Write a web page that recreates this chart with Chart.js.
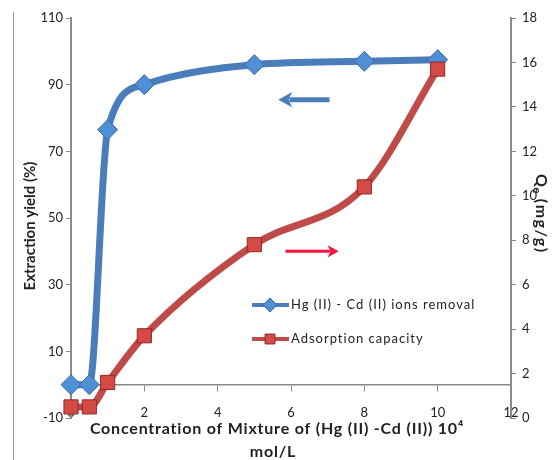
<!DOCTYPE html>
<html>
<head>
<meta charset="utf-8">
<script src="https://cdn.jsdelivr.net/npm/chart.js@4.4.0/dist/chart.umd.min.js"></script>
<style>
  html, body { margin: 0; padding: 0; background: #fff; }
  #wrap { position: relative; width: 552px; height: 460px; }
</style>
</head>
<body>
<div id="wrap"><canvas id="chart" width="552" height="460"></canvas></div>
<script>
// données
const concentration = [0, 0.5, 1, 2, 5, 8, 10];
const extractionYield = [0, 0, 76.5, 90, 96, 97, 97.5];
const adsorptionCapacity = [0.5, 0.5, 1.6, 3.7, 7.8, 10.4, 15.7];
const seriesNames = ['Hg (II) - Cd (II) ions removal', 'Adsorption capacity'];
const xTitleLines = ['Concentration of Mixture of (Hg (II) -Cd (II)) 10\u2074', 'mol/L'];
const yTitle = 'Extraction yield (%)';

const BLUE = '#4a7ebb';
const RED = '#be4b48';
const AXIS = '#8a8a8a';
const TEXT = '#222';
const FONT = 'Lato, "Open Sans", sans-serif';

function toPoints(xs, ys) {
  return xs.map((x, i) => ({ x: x, y: ys[i] }));
}

function arrow(ctx, x1, y1, x2, y2, color, width, head) {
  const dir = Math.sign(x2 - x1);
  ctx.save();
  ctx.strokeStyle = color;
  ctx.fillStyle = color;
  ctx.lineWidth = width;
  ctx.beginPath();
  ctx.moveTo(x1, y1);
  ctx.lineTo(x2 - dir * head * 0.8, y2);
  ctx.stroke();
  ctx.beginPath();
  ctx.moveTo(x2, y2);
  ctx.lineTo(x2 - dir * head, y2 - head * 0.55);
  ctx.lineTo(x2 - dir * head * 0.75, y2);
  ctx.lineTo(x2 - dir * head, y2 + head * 0.55);
  ctx.closePath();
  ctx.fill();
  ctx.restore();
}

// titres d'axes, légende, flèches
const extras = {
  id: 'extras',
  afterDraw(chart) {
    const ctx = chart.ctx;
    const xs = chart.scales.x, ys = chart.scales.y;

    // cadre gauche du graphique
    ctx.save();
    ctx.strokeStyle = '#9a9a9a';
    ctx.lineWidth = 1;
    ctx.beginPath();
    ctx.moveTo(13.5, 12);
    ctx.lineTo(13.5, 460);
    ctx.stroke();
    ctx.restore();

    // flèches
    arrow(ctx, xs.getPixelForValue(7.05), ys.getPixelForValue(85.5),
      xs.getPixelForValue(5.65), ys.getPixelForValue(85.5), BLUE, 5, 14);
    arrow(ctx, xs.getPixelForValue(5.85), ys.getPixelForValue(40),
      xs.getPixelForValue(7.3), ys.getPixelForValue(40), '#f5143c', 3, 11);

    // légende
    ctx.save();
    ctx.font = '13px ' + FONT;
    ctx.letterSpacing = '1px';
    ctx.fillStyle = TEXT;
    ctx.textBaseline = 'middle';
    const rows = [
      { y: 305, color: BLUE, style: 'rectRot', fill: '#4f8fd6', border: '#3b6aa6' },
      { y: 339, color: RED, style: 'rect', fill: '#d54a44', border: '#8e2a27' }
    ];
    rows.forEach((r, i) => {
      ctx.strokeStyle = r.color;
      ctx.lineWidth = 4;
      ctx.beginPath();
      ctx.moveTo(252, r.y);
      ctx.lineTo(289, r.y);
      ctx.stroke();
      ctx.fillStyle = r.fill;
      ctx.strokeStyle = r.border;
      ctx.lineWidth = 1;
      Chart.helpers.drawPoint(ctx, { pointStyle: r.style, radius: 7, borderWidth: 1 }, 270, r.y);
      ctx.fillStyle = TEXT;
      ctx.fillText(seriesNames[i], 291, r.y);
    });
    ctx.restore();

    // titre axe x
    ctx.save();
    ctx.fillStyle = TEXT;
    ctx.font = 'bold 16px ' + FONT;
    ctx.letterSpacing = '0.8px';
    ctx.textAlign = 'center';
    ctx.textBaseline = 'middle';
    ctx.fillText(xTitleLines[0], 277, 429);
    ctx.fillText(xTitleLines[1], 273, 452);
    ctx.restore();

    // titre axe y gauche
    ctx.save();
    ctx.fillStyle = TEXT;
    ctx.font = 'bold 15px ' + FONT;
    ctx.translate(30, 226);
    ctx.rotate(-Math.PI / 2);
    ctx.textAlign = 'center';
    ctx.textBaseline = 'middle';
    ctx.fillText(yTitle, 0, 0);
    ctx.restore();

    // titre axe y droit : Qe (mg/g)
    ctx.save();
    ctx.fillStyle = TEXT;
    ctx.translate(541, 174);
    ctx.rotate(Math.PI / 2);
    ctx.textBaseline = 'middle';
    ctx.letterSpacing = '1.5px';
    ctx.font = 'bold 16px ' + FONT;
    ctx.fillText('Q', 0, 0);
    let w = ctx.measureText('Q').width;
    ctx.font = 'bold 11px ' + FONT;
    ctx.fillText('e', w - 1, 4);
    w += ctx.measureText('e').width + 3;
    ctx.font = 'bold 16px ' + FONT;
    ctx.fillText('(mg/g)', w, 0);
    ctx.restore();
  }
};

const ctx = document.getElementById('chart').getContext('2d');
new Chart(ctx, {
  type: 'line',
  data: {
    datasets: [{
      label: seriesNames[0],
      data: toPoints(concentration, extractionYield),
      yAxisID: 'y',
      borderColor: BLUE,
      borderWidth: 7,
      pointStyle: 'rectRot',
      pointRadius: 10,
      pointBackgroundColor: '#4f8fd6',
      pointBorderColor: '#3b6aa6',
      pointBorderWidth: 1,
      cubicInterpolationMode: 'monotone',
      clip: false,
      order: 2
    }, {
      label: seriesNames[1],
      data: toPoints(concentration, adsorptionCapacity),
      yAxisID: 'y2',
      borderColor: RED,
      borderWidth: 7,
      pointStyle: 'rect',
      pointRadius: 10,
      pointBackgroundColor: '#d54a44',
      pointBorderColor: '#8e2a27',
      pointBorderWidth: 1,
      cubicInterpolationMode: 'monotone',
      clip: false,
      order: 1
    }]
  },
  options: {
    responsive: false,
    animation: false,
    devicePixelRatio: 1,
    layout: { padding: { top: 18, bottom: 42, left: 0, right: 0 } },
    plugins: { legend: { display: false }, tooltip: { enabled: false } },
    scales: {
      x: {
        type: 'linear',
        position: { y: 0 },
        min: 0, max: 12,
        ticks: { stepSize: 2, padding: 14, color: TEXT, font: { family: FONT, size: 13 }, maxRotation: 0 },
        grid: { drawOnChartArea: false, tickLength: 6, color: AXIS },
        border: { color: AXIS, width: 1.5 }
      },
      y: {
        position: 'left',
        min: -10, max: 110,
        ticks: { stepSize: 20, padding: 3, color: TEXT, font: { family: FONT, size: 13 } },
        grid: { drawOnChartArea: false, tickLength: 5, color: AXIS },
        border: { color: AXIS, width: 2 },
        afterFit(scale) { scale.width = 71; }
      },
      y2: {
        position: 'right',
        min: 0, max: 18,
        ticks: { stepSize: 2, padding: 6, color: TEXT, font: { family: FONT, size: 13 } },
        grid: { drawOnChartArea: false, tickLength: 5, color: AXIS },
        border: { color: AXIS, width: 2 },
        afterFit(scale) { scale.width = 41; }
      }
    }
  },
  plugins: [extras]
});
</script>
</body>
</html>
